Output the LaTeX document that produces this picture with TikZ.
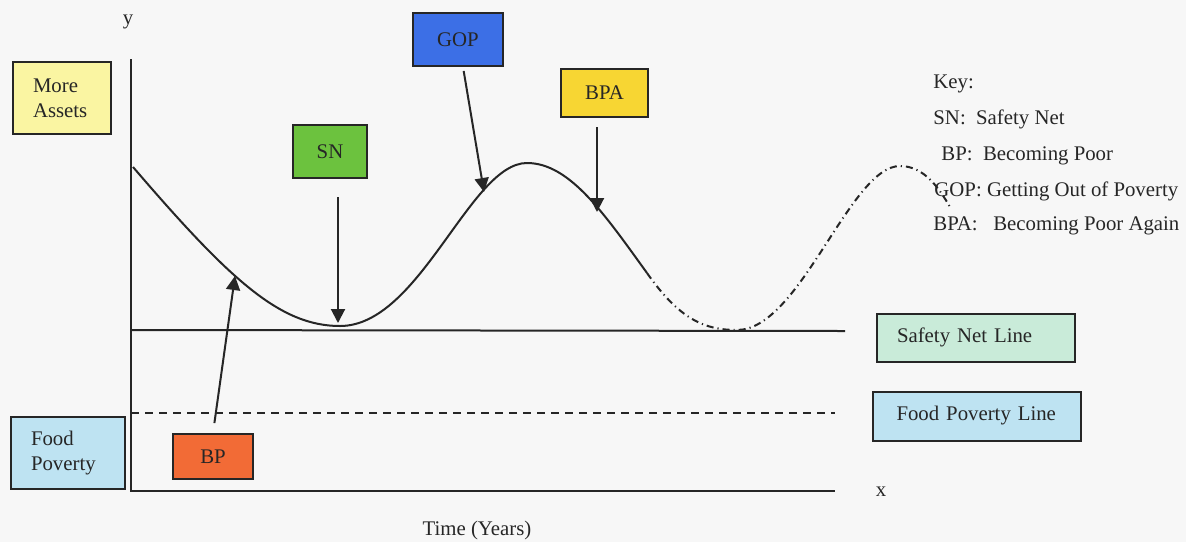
\documentclass[tikz,border=0pt]{standalone}
\usepackage{fontspec}
\setmainfont{Liberation Serif}
\usetikzlibrary{arrows.meta,positioning}
\definecolor{pvink}{HTML}{262626}
\definecolor{pvpaper}{HTML}{F7F7F7}
\definecolor{pvlemon}{HTML}{FAF5A2}
\definecolor{pvgreen}{HTML}{6CC23E}
\definecolor{pvblue}{HTML}{3C6FE6}
\definecolor{pvgold}{HTML}{F7D633}
\definecolor{pvorange}{HTML}{F26B36}
\definecolor{pvsky}{HTML}{BEE3F2}
\definecolor{pvmint}{HTML}{C9EBD9}
\tikzset{
  box/.style={draw=pvink, line width=1pt, inner sep=0pt, font=\fontsize{10.4}{12.5}\selectfont, text=pvink},
  wide/.style={box, align=left, inner xsep=10pt},
  lbl/.style={font=\fontsize{10.4}{12.5}\selectfont, text=pvink, inner sep=0pt},
  axis/.style={line width=1pt, color=pvink},
  arr/.style={-{Triangle[length=7pt,width=7pt]}, line width=1pt, color=pvink},
}

\begin{document}
\begin{tikzpicture}[x=0.5pt,y=-0.5pt]
  \path[fill=pvpaper, use as bounding box] (0,0) rectangle (1186,542);
  % axes and reference lines
  \coordinate (origin) at (131,491);
  \coordinate (ytop) at (131,59);
  \coordinate (xend) at (835,491);
  \draw[axis] (ytop) -- (origin) -- (xend);
  \draw[axis] (131,330) -- (845,331);
  \draw[axis, dash pattern=on 4pt off 3pt] (131,413) -- (835,413);
  \node[lbl] (ylab) at (128,22) {y};
  \node[lbl] (xlab) at (881,492) {x};
  \node[lbl] (tlab) at (477,530) {Time (Years)};
  % asset curve
  \draw[line width=1pt, pvink] (133,167) .. controls (230,280) and (280,326) .. (340,326)
    .. controls (420,326) and (470,163) .. (527,163)
    .. controls (570,163) and (605,215) .. (647,273);
  \draw[line width=1pt, pvink, dash pattern=on 3.5pt off 2pt on 0.6pt off 2pt] (647,273)
    .. controls (680,320) and (705,330) .. (737,330)
    .. controls (800,330) and (850,166) .. (900,166)
    .. controls (925,166) and (940,190) .. (950,207);
  \coordinate (bpTip) at (235,276);
  \coordinate (snTip) at (338,323);
  \coordinate (gopTip) at (484,192);
  \coordinate (bpaTip) at (597,212);
  % boxes
  \node[wide, fill=pvlemon, minimum height=36pt, text width=29pt] (assets) at (62,98) {More\\Assets};
  \node[wide, fill=pvsky, minimum height=36pt, text width=37pt] (food) at (68,453) {Food\\Poverty};
  \node[box, fill=pvgreen, minimum width=37pt, minimum height=26.5pt] (sn) at (330,151.5) {SN};
  \node[box, fill=pvblue, minimum width=45pt, minimum height=26.5pt] (gop) at (458,39.5) {GOP};
  \node[box, fill=pvgold, minimum width=43.5pt, minimum height=24pt] (bpa) at (604.5,93) {BPA};
  \node[box, fill=pvorange, minimum width=40pt, minimum height=22.5pt] (bp) at (213,456.5) {BP};
  \node[wide, fill=pvmint, minimum height=24pt, text width=79pt] (netline) at (976,337.5) {Safety Net Line};
  \node[wide, fill=pvsky, minimum height=24.5pt, text width=80pt, inner xsep=12pt] (foodline) at (976.5,416) {Food Poverty Line};
  % pointers
  \draw[arr, shorten <=5pt] (bp.north) -- (bpTip);
  \draw[arr, shorten <=9pt] (sn.south -| snTip) -- (snTip);
  \draw[arr, shorten <=2pt] ([xshift=2.5pt]gop.south) -- (gopTip);
  \draw[arr, shorten <=4.5pt] (bpa.south -| bpaTip) -- (bpaTip);
  % key
  \foreach \n/\y/\x/\t in {head/84/933/Key:, sn/119/933/{SN:\ \ Safety Net}, bp/156/941/{BP:\ \ Becoming Poor},
      gop/191/934/{GOP: Getting Out of Poverty}, bpa/226/933/{BPA:\ \ \ Becoming Poor Again}}
    \node[lbl, anchor=west] (key\n) at (\x,\y) {\t};
\end{tikzpicture}
\end{document}
